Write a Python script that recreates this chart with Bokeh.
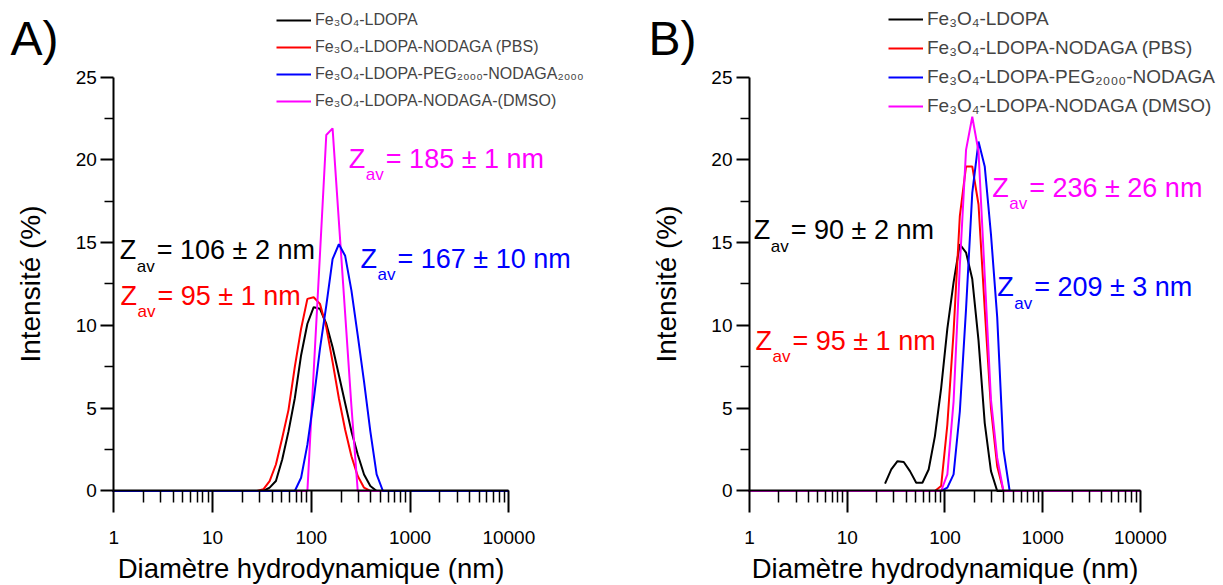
from bokeh.plotting import figure
from bokeh.models import (Range1d, Label, Legend, LegendItem, FixedTicker,
                          NumeralTickFormatter, LogAxis, LinearAxis)
from bokeh.layouts import row
from bokeh.embed import file_html
from bokeh.resources import INLINE

# ---------------- data ----------------
# DLS size classes (nm)
size_nm = [0.9649, 1.117, 1.294, 1.499, 1.736, 2.01, 2.328, 2.696, 3.122, 3.615,
           4.187, 4.849, 5.615, 6.503, 7.531, 8.721, 10.1, 11.7, 13.54, 15.69,
           18.17, 21.04, 24.36, 28.21, 32.67, 37.84, 43.82, 50.75, 58.77, 68.06,
           78.82, 91.28, 105.7, 122.4, 141.8, 164.2, 190.1, 220.2, 255.0, 295.3,
           342.0, 396.1, 458.7, 531.2, 615.1, 712.4, 825.0, 955.4, 1106, 1281,
           1484, 1718, 1990, 2305, 2669, 3091, 3580, 4145, 4801, 5560,
           6439, 7456, 8635, 10000]

# intensities (%), for classes 24.36 ... 458.7 nm (zero elsewhere)
win_start = 22
a_black   = [0, 0, 0, 0.2, 0.6, 1.9, 3.6, 5.6, 8.2, 10.1, 11.1, 11.0, 10.1, 8.7, 7.0, 5.3, 3.6, 2.2, 1.0, 0.3, 0]
a_red     = [0, 0, 0.1, 0.6, 1.6, 3.2, 4.9, 7.5, 9.8, 11.6, 11.7, 11.3, 9.9, 7.8, 5.6, 3.7, 2.1, 0.9, 0.2, 0, 0]
a_blue    = [0, 0, 0, 0, 0, 0, 0, 0, 0.8, 2.8, 5.5, 8.6, 11.2, 14.0, 14.9, 14.2, 12.1, 9.4, 6.6, 3.6, 1.0]
a_magenta = [0, 0, 0, 0, 0, 0, 0, 0, 0, 0, 7.2, 14.3, 21.5, 21.9, 16.3, 10.7, 5.1, 0, 0, 0, 0]

b_black   = [0.45, 1.3, 1.8, 1.75, 1.2, 0.5, 0.5, 1.3, 3.3, 6.2, 9.8, 12.6, 14.9, 14.4, 12.8, 9.1, 4.1, 1.2, 0, 0, 0]
b_red     = [0, 0, 0, 0, 0, 0, 0, 0, 0, 0.3, 4.0, 9.6, 16.6, 19.6, 19.6, 17.3, 11.0, 5.0, 1.5, 0, 0]
b_blue    = [0, 0, 0, 0, 0, 0, 0, 0, 0, 0, 0.2, 1.0, 4.8, 11.0, 18.0, 21.1, 19.6, 15.5, 10.5, 2.5, 0]
b_magenta = [0, 0, 0, 0, 0, 0, 0, 0, 0, 0, 1.0, 5.4, 13.6, 20.6, 22.6, 20.5, 13.0, 5.5, 2.0, 0, 0]

labels_a = ["Fe\u2083O\u2084-LDOPA", "Fe\u2083O\u2084-LDOPA-NODAGA (PBS)",
            "Fe\u2083O\u2084-LDOPA-PEG\u2082\u2080\u2080\u2080-NODAGA\u2082\u2080\u2080\u2080",
            "Fe\u2083O\u2084-LDOPA-NODAGA-(DMSO)"]
labels_b = ["Fe\u2083O\u2084-LDOPA", "Fe\u2083O\u2084-LDOPA-NODAGA (PBS)",
            "Fe\u2083O\u2084-LDOPA-PEG\u2082\u2080\u2080\u2080-NODAGA",
            "Fe\u2083O\u2084-LDOPA-NODAGA (DMSO)"]

zav_a = ["= 106 \u00b1 2 nm", "= 95 \u00b1 1 nm", "= 167 \u00b1 10 nm", "= 185 \u00b1 1 nm"]
zav_b = ["= 90 \u00b1 2 nm", "= 95 \u00b1 1 nm", "= 209 \u00b1 3 nm", "= 236 \u00b1 26 nm"]
# annotation anchors (x in nm, y in %)
zav_a_x = [1.15, 1.17, 315, 240]
zav_a_y = [13.92, 11.2, 13.42, 19.46]
zav_b_x = [1.107, 1.152, 342, 304]
zav_b_y = [15.13, 8.48, 11.70, 17.71]

colors = ["#000000", "#ff0000", "#0000ff", "#ff00ff"]

x_major = [1, 10, 100, 1000, 10000]
x_minor = [m * d for d in (1, 10, 100, 1000) for m in range(2, 10)]
y_major = [0, 5, 10, 15, 20, 25]
y_minor = [2.5, 7.5, 12.5, 17.5, 22.5]

FONT = "Liberation Sans"
H = 585


def full(vals, start=win_start):
    out = [0.0] * len(size_nm)
    for i, v in enumerate(vals):
        out[start + i] = v
    return out


def make_panel(width, xr, series_x, series_y, draw_order, labels, leg_font, leg_h,
               leg_x, leg_y, zx, zy, ztexts, panel_text, panel_x):
    p = figure(width=width, height=H, x_axis_type="log",
               x_axis_location=None, y_axis_location=None,
               x_range=Range1d(*xr), y_range=Range1d(-5.707, 29.62),
               output_backend="svg", toolbar_location=None,
               min_border_left=0, min_border_right=0,
               min_border_top=0, min_border_bottom=0)
    p.outline_line_color = None
    p.grid.visible = False
    p.background_fill_color = "white"
    p.border_fill_color = "white"

    renderers = [None] * 4
    for k in draw_order:
        renderers[k] = p.line(series_x[k], series_y[k], line_color=colors[k], line_width=2)

    # axes
    xaxis = LogAxis(fixed_location=0, bounds=(1, 10000),
                    ticker=FixedTicker(ticks=x_major, minor_ticks=x_minor),
                    formatter=NumeralTickFormatter(format="0"))
    yaxis = LinearAxis(fixed_location=1, bounds=(0, 25),
                       ticker=FixedTicker(ticks=y_major, minor_ticks=y_minor))
    for ax in (xaxis, yaxis):
        ax.axis_line_width = 2
        ax.axis_line_color = "black"
        ax.major_tick_line_width = 2
        ax.minor_tick_line_width = 1.5
        ax.major_tick_in = 0
        ax.minor_tick_in = 0
        ax.major_label_text_font = FONT
        ax.major_label_text_font_size = "19px"
        ax.major_label_text_color = "black"
        ax.axis_label_text_font = FONT
        ax.axis_label_text_font_style = "normal"
        ax.axis_label_text_color = "black"
    xaxis.major_tick_out = 22
    xaxis.minor_tick_out = 12
    yaxis.major_tick_out = 13
    yaxis.minor_tick_out = 9
    xaxis.major_label_standoff = 18
    yaxis.major_label_standoff = 4
    xaxis.axis_label = "Diamètre hydrodynamique (nm)"
    yaxis.axis_label = "Intensité (%)"
    xaxis.axis_label_text_font_size = "27.5px"
    yaxis.axis_label_text_font_size = "28px"
    xaxis.axis_label_standoff = 6
    yaxis.axis_label_standoff = 26
    p.add_layout(xaxis, "below")
    p.add_layout(yaxis, "left")

    # legend
    items = [LegendItem(label=labels[k], renderers=[renderers[k]]) for k in range(4)]
    leg = Legend(items=items, location=(leg_x, leg_y), glyph_width=35, glyph_height=leg_h,
                 label_height=leg_h, label_standoff=4, spacing=7, padding=0, margin=0,
                 border_line_alpha=0, background_fill_alpha=0,
                 label_text_font=FONT, label_text_font_size=leg_font)
    p.add_layout(leg, "center")

    # Z_av annotations
    for k in range(4):
        common = dict(x=zx[k], y=zy[k], text_color=colors[k], text_font=FONT,
                      text_baseline="alphabetic")
        p.add_layout(Label(text="Z", text_font_size="27px", y_offset=10, **common))
        p.add_layout(Label(text="av", text_font_size="17px", x_offset=17, y_offset=-6, **common))
        p.add_layout(Label(text=ztexts[k], text_font_size="27px", x_offset=37, y_offset=10, **common))

    p.add_layout(Label(x=panel_x, y=26.24, text=panel_text, text_font=FONT,
                       text_font_size="48px", text_color="black", y_offset=18,
                       text_baseline="alphabetic"))
    return p


xs_a = [size_nm] * 4
ys_a = [full(a_black), full(a_red), full(a_blue), full(a_magenta)]
xs_b = [size_nm[win_start:], size_nm, size_nm, size_nm]
ys_b = [full(b_black)[win_start:], full(b_red), full(b_blue), full(b_magenta)]

pa = make_panel(612, (0.07124, 112200), xs_a, ys_a, [0, 1, 3, 2], labels_a, "16px", 20,
                276, 474, zav_a_x, zav_a_y, zav_a, "A)", 0.0899)
pb = make_panel(611, (0.03969, 70630), xs_b, ys_b, [0, 1, 2, 3], labels_b, "19px", 22,
                276, 468, zav_b_x, zav_b_y, zav_b, "B)", 0.0926)

layout = row(pa, pb, spacing=0)
open("out.html", "w").write(file_html(layout, INLINE))
